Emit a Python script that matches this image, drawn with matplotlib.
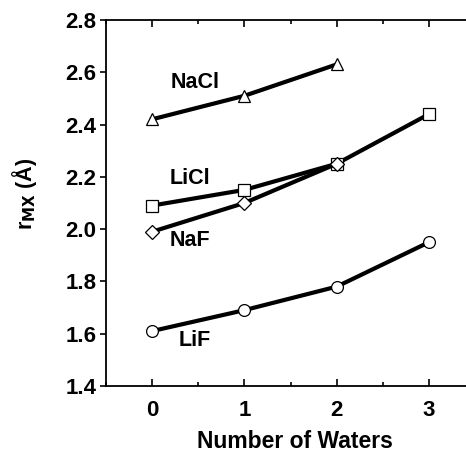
import numpy as np
import matplotlib.pyplot as plt

plt.rcParams['font.family'] = ['Liberation Sans', 'DejaVu Sans']
plt.rcParams['font.weight'] = 'bold'

# data
waters = [0, 1, 2, 3]
nacl = [2.42, 2.51, 2.63]
licl = [2.09, 2.15, 2.25, 2.44]
naf = [1.99, 2.10, 2.25]
lif = [1.61, 1.69, 1.78, 1.95]

fig = plt.figure(figsize=(4.66, 4.53), dpi=100)
ax = fig.add_axes([0.2275, 0.148, 0.7725, 0.808])

kw = dict(color='black', lw=3, mfc='white', mec='black', mew=0.9, ms=8.5)
ax.plot(waters[:3], nacl, marker='^', **kw)
ax.plot(waters, licl, marker='s', **kw)
ax.plot(waters[:3], naf, marker='D', **dict(kw, ms=7))
ax.plot(waters, lif, marker='o', **kw)

lab = dict(fontsize=15.5, fontweight='bold', ha='center', va='center')
ax.text(0.46, 2.56, 'NaCl', **lab)
ax.text(0.41, 2.195, 'LiCl', **lab)
ax.text(0.41, 1.955, 'NaF', **lab)
ax.text(0.46, 1.575, 'LiF', **lab)

ax.set_xlim(-0.5, 3.40)
ax.set_ylim(1.4, 2.8)
ax.set_xticks(waters)
ax.set_xticks([-0.5, 0.5, 1.5, 2.5], minor=True)
ax.set_yticks(np.arange(1.4, 2.81, 0.2))
ax.set_yticklabels(['%.1f' % v for v in np.arange(1.4, 2.81, 0.2)])
ax.spines['right'].set_visible(False)
for s in ['left', 'top', 'bottom']:
    ax.spines[s].set_linewidth(1.3)
ax.tick_params(axis='x', which='both', direction='in', top=True, length=5, width=1.2,
               labelsize=16, pad=10)
ax.tick_params(axis='x', which='minor', length=3)
ax.tick_params(axis='y', direction='out', length=4, width=1.2, labelsize=16, pad=3)

ax.set_xlabel('Number of Waters', fontsize=16.5, fontweight='bold')
ax.xaxis.set_label_coords(0.525, -0.12)
ax.set_ylabel(r'r$_{\mathbf{MX}}$ (Å)', fontsize=15.5, fontweight='bold')
ax.yaxis.set_label_coords(-0.185, 0.525)

fig.savefig('out.png', dpi=100)
